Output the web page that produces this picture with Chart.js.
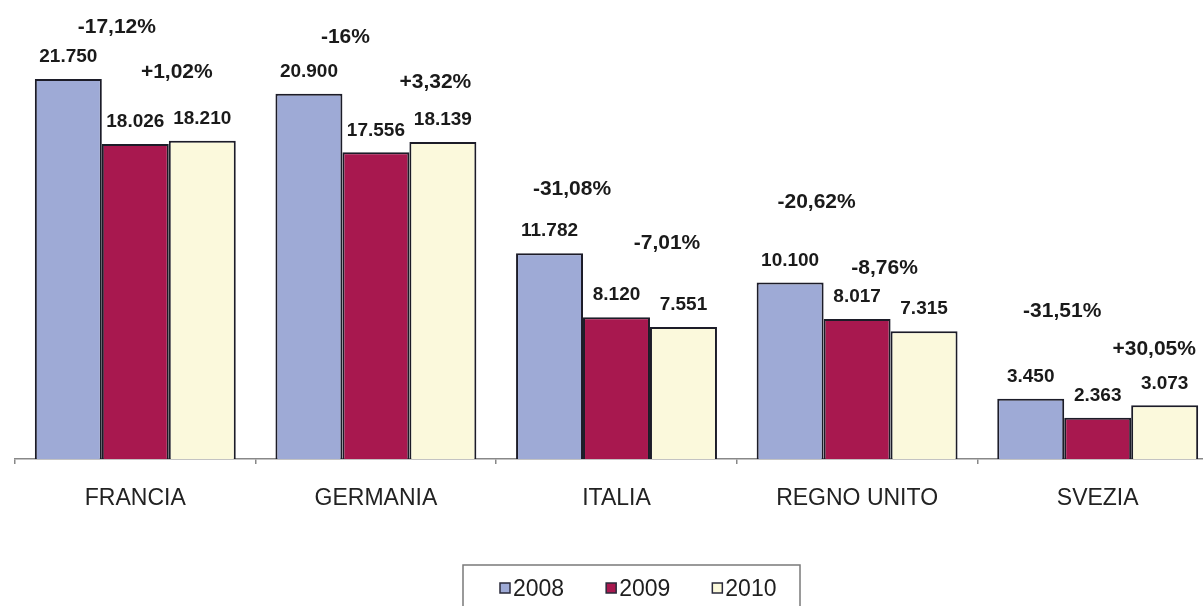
<!DOCTYPE html>
<html>
<head>
<meta charset="utf-8">
<script src="https://cdn.jsdelivr.net/npm/chart.js@4.4.0/dist/chart.umd.min.js"></script>
<style>
  html, body { margin: 0; padding: 0; background: #fff; overflow: hidden; }
  #wrap { width: 1220px; height: 606px; }
</style>
</head>
<body>
<div id="wrap"><canvas id="grafico" width="1220" height="606"></canvas></div>
<script>
var categorie = ['FRANCIA', 'GERMANIA', 'ITALIA', 'REGNO UNITO', 'SVEZIA'];
var anni = ['2008', '2009', '2010'];
var valori2008 = [21750, 20900, 11782, 10100, 3450];
var valori2009 = [18026, 17556, 8120, 8017, 2363];
var valori2010 = [18210, 18139, 7551, 7315, 3073];
// variazioni percentuali 2008->2009 e 2009->2010
var var0809 = ['-17,12%', '-16%', '-31,08%', '-20,62%', '-31,51%'];
var var0910 = ['+1,02%', '+3,32%', '-7,01%', '-8,76%', '+30,05%'];

var colori = ['#9eaad6', '#a8184f', '#fbf9dc'];
var font = '"Liberation Sans", Arial, sans-serif';

// spostamenti delle etichette % (dx, dy) rispetto alle barre
var spost0809 = [[15,-52],[3,-57],[-11,-64],[-7,-80],[-2,-88]];
var spost0910 = [[8,-69],[26,-60],[17,-74],[-6,-51],[23,-56]];

function formatta(v){
  return String(v).replace(/\B(?=(\d{3})+(?!\d))/g, '.');
}

var etichette = {
  id: 'etichette',
  afterDatasetsDraw: function(chart){
    var ctx = chart.ctx;
    ctx.save();
    ctx.fillStyle = '#1a1a1a';
    ctx.textAlign = 'center';
    ctx.textBaseline = 'middle';
    ctx.font = 'bold 19px ' + font;
    chart.data.datasets.forEach(function(ds, i){
      chart.getDatasetMeta(i).data.forEach(function(bar, j){
        ctx.fillText(formatta(ds.data[j]), bar.x, bar.y - 22);
      });
    });
    ctx.font = 'bold 21px ' + font;
    var m0 = chart.getDatasetMeta(0).data;
    var m1 = chart.getDatasetMeta(1).data;
    var m2 = chart.getDatasetMeta(2).data;
    for (var j = 0; j < categorie.length; j++){
      ctx.fillText(var0809[j], (m0[j].x + m1[j].x)/2 + spost0809[j][0], Math.min(m0[j].y, m1[j].y) + spost0809[j][1]);
      ctx.fillText(var0910[j], (m1[j].x + m2[j].x)/2 + spost0910[j][0], Math.min(m1[j].y, m2[j].y) + spost0910[j][1]);
    }
    ctx.restore();
  }
};

// legenda con cornice, disegnata a mano
var legenda = {
  id: 'legenda',
  afterDraw: function(chart){
    var ctx = chart.ctx;
    ctx.save();
    ctx.strokeStyle = '#7a7a7a';
    ctx.lineWidth = 1.5;
    ctx.strokeRect(463, 565, 337, 60);
    ctx.font = '23px ' + font;
    ctx.textBaseline = 'middle';
    ctx.textAlign = 'left';
    var x = 500;
    chart.data.datasets.forEach(function(ds){
      ctx.fillStyle = ds.backgroundColor;
      ctx.fillRect(x, 583, 10, 10);
      ctx.strokeStyle = '#2a2a3a';
      ctx.lineWidth = 1.5;
      ctx.strokeRect(x, 583, 10, 10);
      ctx.fillStyle = '#1e1e1e';
      ctx.fillText(ds.label, x + 13, 590);
      x += 13 + ctx.measureText(ds.label).width + 42;
    });
    ctx.restore();
  }
};

var qid = document.getElementById('grafico');
var myChart = new Chart(qid, {
  type: 'bar',
  data: {
    labels: categorie,
    datasets: [
      { label: anni[0], data: valori2008, backgroundColor: colori[0] },
      { label: anni[1], data: valori2009, backgroundColor: colori[1] },
      { label: anni[2], data: valori2010, backgroundColor: colori[2] }
    ]
  },
  options: {
    responsive: false,
    animation: false,
    datasets: {
      bar: {
        categoryPercentage: 0.835,
        barPercentage: 1.0,
        borderColor: '#1c1c28',
        borderWidth: 2
      }
    },
    layout: { padding: { left: 15, right: 2, top: 19, bottom: 0 } },
    plugins: {
      legend: { display: false },
      tooltip: { enabled: false }
    },
    scales: {
      x: {
        grid: { offset: true, drawOnChartArea: false, tickLength: 5, color: '#888', lineWidth: 1.5 },
        border: { color: '#888', width: 1.5 },
        ticks: { color: '#222', font: { family: font, size: 23 }, padding: 21 },
        afterFit: function(s){ s.height = 147; }
      },
      y: { display: false, min: 0, max: 25184 }
    }
  },
  plugins: [etichette, legenda]
});
</script>
</body>
</html>
